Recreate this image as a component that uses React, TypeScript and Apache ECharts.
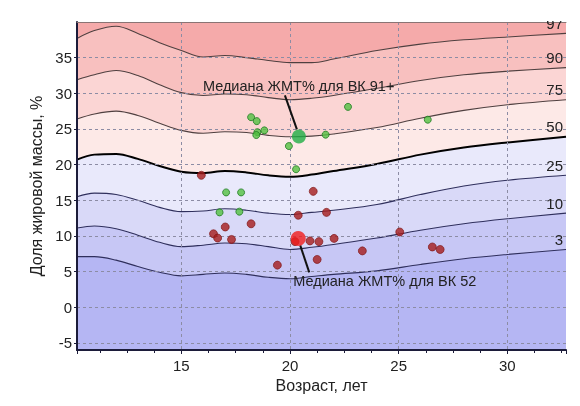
import React, { useEffect, useRef } from "react";
import * as echarts from "echarts";

// Ages at which the centile curves are sampled (years)
const ages = [10.2, 11, 12, 13, 14, 15, 16, 17, 18, 19, 20, 21, 22, 24, 26, 28, 30, 32.7];

// Fat mass percentage centile curves
const p97 = [37.7, 38.8, 39.4, 38.4, 37.1, 36.0, 35.1, 35.3, 35.0, 34.6, 34.3, 34.3, 34.8, 36.0, 36.9, 37.5, 37.9, 38.4];
const p90 = [31.9, 32.6, 33.2, 32.5, 31.2, 30.1, 29.7, 29.9, 29.8, 29.4, 29.1, 29.3, 29.7, 30.7, 31.8, 32.6, 33.1, 33.6];
const p75 = [26.4, 27.1, 27.5, 26.9, 25.8, 24.8, 24.4, 24.6, 24.5, 24.1, 23.9, 24.0, 24.3, 25.2, 26.5, 27.6, 28.4, 29.1];
const p50 = [20.7, 21.4, 21.5, 20.8, 19.8, 19.0, 18.8, 19.1, 18.9, 18.5, 18.3, 18.6, 19.1, 20.1, 21.4, 22.4, 23.1, 23.9];
const p25 = [15.5, 16.0, 15.8, 15.0, 14.0, 13.4, 13.5, 13.8, 13.6, 13.2, 13.0, 13.3, 13.6, 14.4, 15.8, 17.0, 17.8, 18.5];
const p10 = [11.1, 11.4, 11.0, 10.1, 9.1, 8.5, 8.7, 9.0, 8.9, 8.5, 8.1, 8.4, 8.8, 9.7, 10.8, 11.7, 12.4, 13.2];
const p3 = [7.1, 7.1, 6.6, 5.7, 4.9, 4.4, 4.6, 4.8, 4.6, 4.2, 4.0, 4.3, 4.6, 5.1, 6.0, 6.8, 7.4, 8.1];

const centileNames = ["97", "90", "75", "50", "25", "10", "3"];
const centileValues = [p97, p90, p75, p50, p25, p10, p3];

// Individual athletes: [age, fat %]
const groupHighPoints = [
  [18.21, 26.65], [18.47, 26.1], [18.5, 24.55], [18.45, 24.15], [18.82, 24.8],
  [22.67, 28.1], [21.64, 24.2], [19.95, 22.6], [20.28, 19.35], [17.06, 16.1],
  [17.75, 16.1], [16.76, 13.3], [17.67, 13.4], [26.34, 26.3],
];
const groupLowPoints = [
  [15.92, 18.5], [21.07, 16.25], [20.38, 12.9], [21.68, 13.3], [17.02, 11.25],
  [18.21, 11.7], [16.48, 10.3], [16.67, 9.7], [17.31, 9.5], [20.23, 9.2],
  [20.92, 9.3], [21.33, 9.2], [22.03, 9.65], [23.33, 7.9], [21.25, 6.7],
  [19.42, 5.9], [25.05, 10.55], [26.55, 8.45], [26.91, 8.1],
];

// Group medians
const medianHigh = [20.41, 23.95];
const medianLow = [20.38, 9.65];
const medianHighLabel = "Медиана ЖМТ% для ВК 91+";
const medianLowLabel = "Медиана ЖМТ% для ВК 52";

const xTitle = "Возраст, лет";
const yTitle = "Доля жировой массы, %";

// Band fills from the top band (above 97th) down to the bottom band (below 3rd)
const bandColors = ["#f5aaaa", "#f8c0bf", "#fbd5d4", "#fde9e7", "#e9e9fb", "#d9d9f8", "#c7c7f5", "#b5b6f3"];
const lineColors = ["#4f4040", "#4f4040", "#4f4040", "#000000", "#2f2f5c", "#2f2f5c", "#2f2f5c"];

const FONT = "'Liberation Sans', Arial, sans-serif";

export default function App() {
  const ref = useRef<HTMLDivElement>(null);

  useEffect(() => {
    if (!ref.current) return;
    const chart = echarts.init(ref.current, null, { renderer: "svg" });

    const bandSeries = centileNames.map((name, i) => ({
      type: "line",
      name,
      data: ages.map((a, j) => [a, centileValues[i][j]]),
      smooth: 0.35,
      symbol: "none",
      silent: true,
      z: 1,
      lineStyle: { color: lineColors[i], width: name === "50" ? 2 : 1.1 },
      areaStyle: { color: bandColors[i + 1], opacity: 1, origin: "start" },
    }));

    const axisDark = "#1c1c3a";
    const gridDash = { type: [3, 3], color: "#8c8ca4", width: 1 };

    chart.setOption({
      animation: false,
      grid: {
        left: 77,
        right: 14,
        top: 22,
        bottom: 56,
        show: true,
        backgroundColor: bandColors[0],
        borderWidth: 0,
        outerBoundsMode: "none",
      },
      xAxis: [
        {
          type: "value",
          position: "bottom",
          min: 10.2,
          max: 32.7,
          minInterval: 5,
          maxInterval: 5,
          z: 3,
          axisLine: { show: true, onZero: false, lineStyle: { color: axisDark, width: 2 } },
          axisTick: { show: true, length: 4, lineStyle: { color: axisDark } },
          minorTick: { show: true, splitNumber: 4, length: 3, lineStyle: { color: axisDark } },
          axisLabel: { showMinLabel: false, showMaxLabel: false, fontSize: 15, color: "#222", margin: 8, fontFamily: FONT },
          splitLine: { show: true, showMinLine: false, showMaxLine: false, lineStyle: gridDash },
          name: xTitle,
          nameLocation: "middle",
          nameGap: 25,
          nameTextStyle: { fontSize: 16, color: "#222", fontFamily: FONT },
        },
        {
          type: "value",
          position: "top",
          min: 10.2,
          max: 32.7,
          z: 3,
          axisLine: { show: true, onZero: false, lineStyle: { color: "#8a7474", width: 1 } },
          axisTick: { show: false },
          axisLabel: { show: false },
          splitLine: { show: false },
        },
      ],
      yAxis: {
        type: "value",
        min: -6,
        max: 40,
        minInterval: 5,
        maxInterval: 5,
        z: 3,
        axisLine: { show: true, onZero: false, lineStyle: { color: axisDark, width: 2 } },
        axisTick: { show: true, length: 3, lineStyle: { color: axisDark } },
        axisLabel: { showMinLabel: false, showMaxLabel: false, fontSize: 15, color: "#222", margin: 5, fontFamily: FONT },
        splitLine: { show: true, showMinLine: false, showMaxLine: false, lineStyle: gridDash },
        name: yTitle,
        nameLocation: "middle",
        nameGap: 29,
        nameTextStyle: { fontSize: 16, color: "#222", fontFamily: FONT },
      },
      series: [
        ...bandSeries,
        {
          type: "scatter",
          data: groupHighPoints,
          symbolSize: 7,
          z: 5,
          itemStyle: { color: "#52c141", borderColor: "#1f7a22", borderWidth: 1 },
        },
        {
          type: "scatter",
          data: groupLowPoints,
          symbolSize: 8,
          z: 5,
          itemStyle: { color: "#a51c1c", borderColor: "#7a1010", borderWidth: 0.8 },
        },
        {
          type: "scatter",
          data: [medianHigh],
          symbolSize: 14,
          z: 6,
          itemStyle: { color: "#1fae45" },
        },
        {
          type: "scatter",
          data: [medianLow],
          symbolSize: 15,
          z: 6,
          itemStyle: { color: "#f01c1c" },
        },
      ],
    });

    const toPx = (pt: number[]) => chart.convertToPixel({ gridIndex: 0 }, pt) as number[];
    const elements: any[] = [];

    // Centile names at the right end of each curve
    centileNames.forEach((name, i) => {
      const vals = centileValues[i];
      const [lx, ly] = toPx([ages[ages.length - 1], vals[vals.length - 1]]);
      elements.push({
        type: "text",
        z: 10,
        x: lx - 3,
        y: ly - 10,
        style: { text: name, fontSize: 15, fill: "#222", align: "right", verticalAlign: "middle", fontFamily: FONT },
      });
    });

    // Median callouts
    const [hx, hy] = toPx(medianHigh);
    elements.push({
      type: "line",
      z: 4,
      shape: { x1: hx - 14, y1: hy - 41, x2: hx - 2, y2: hy - 7 },
      style: { stroke: "#111", lineWidth: 2 },
    });
    elements.push({
      type: "text",
      z: 10,
      x: hx - 96,
      y: hy - 50,
      style: { text: medianHighLabel, fontSize: 14.5, fill: "#222", verticalAlign: "middle", fontFamily: FONT },
    });
    const [rx, ry] = toPx(medianLow);
    elements.push({
      type: "line",
      z: 4,
      shape: { x1: rx + 2, y1: ry + 7, x2: rx + 11, y2: ry + 34 },
      style: { stroke: "#111", lineWidth: 2 },
    });
    elements.push({
      type: "text",
      z: 10,
      x: rx - 5,
      y: ry + 43,
      style: { text: medianLowLabel, fontSize: 14.5, fill: "#222", verticalAlign: "middle", fontFamily: FONT },
    });

    // White strip above the plot so labels near the top are cut at the plot edge
    elements.push({
      type: "rect",
      z: 20,
      shape: { x: 0, y: 0, width: 580, height: 21 },
      style: { fill: "#ffffff" },
    });

    chart.setOption({ graphic: elements });

    return () => chart.dispose();
  }, []);

  return (
    <div
      ref={ref}
      style={{ position: "fixed", left: 0, top: 0, width: 580, height: 406 }}
    />
  );
}
